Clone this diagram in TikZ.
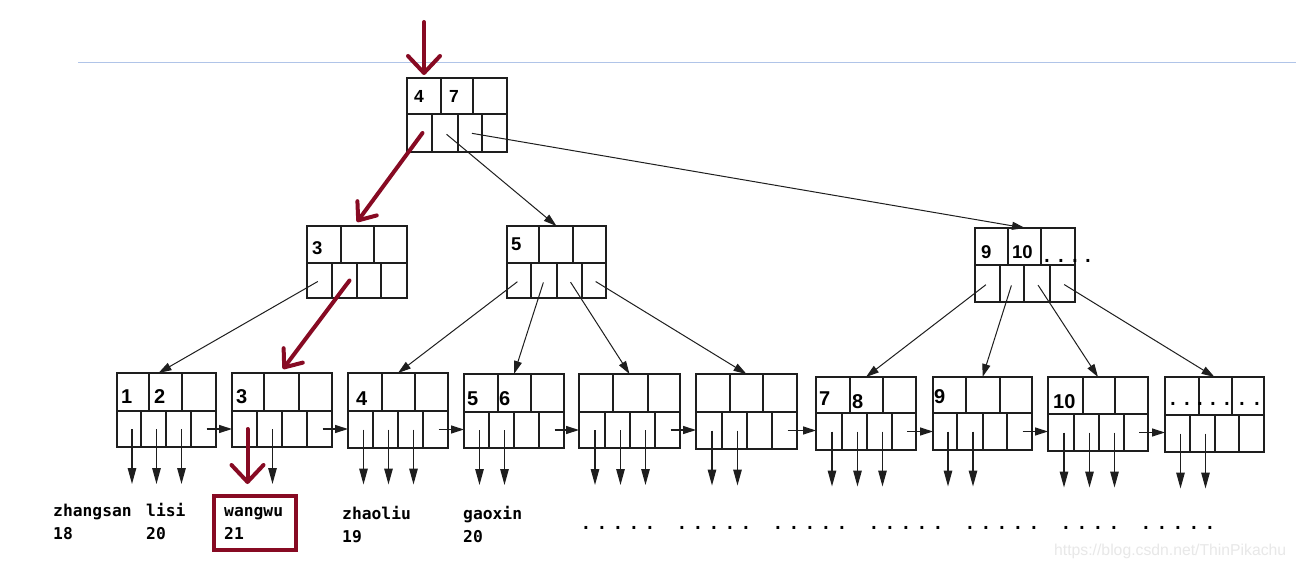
\documentclass[tikz,border=0pt]{standalone}
\usepackage{fontspec}
\usetikzlibrary{fit,arrows.meta}
\newfontfamily\numf{Liberation Sans}
\newfontfamily\labf{DejaVu Sans Mono}
\newfontfamily\wmf{Liberation Sans}
\definecolor{bred}{RGB}{135,10,35}
\definecolor{bblue}{RGB}{176,196,232}
\definecolor{boxc}{RGB}{30,30,30}
\definecolor{wmc}{RGB}{232,232,232}
% B-tree node: name, x0, top divider 1, top divider 2, x end, y top, y mid, y bottom
\newcommand\btnode[8]{%
  \def\btxa{#2}\def\btxe{#5}\def\btym{#7}\def\btyb{#8}%
  \node[cellbox, fit={(#2,#6) (#3,#7)}] (#1-t1) {};
  \node[cellbox, fit={(#3,#6) (#4,#7)}] (#1-t2) {};
  \node[cellbox, fit={(#4,#6) (#5,#7)}] (#1-t3) {};
  \node[inner sep=0pt, outer sep=0pt, fit={(#2,#6) (#5,#8)}] (#1) {};
}
% bottom row: name, three dividers
\newcommand\btbot[4]{%
  \node[cellbox, fit={(\btxa,\btym) (#2,\btyb)}] (#1-b1) {};
  \node[cellbox, fit={(#2,\btym) (#3,\btyb)}] (#1-b2) {};
  \node[cellbox, fit={(#3,\btym) (#4,\btyb)}] (#1-b3) {};
  \node[cellbox, fit={(#4,\btym) (\btxe,\btyb)}] (#1-b4) {};
}
\begin{document}
\begin{tikzpicture}[x=1pt,y=-1pt,
  cellbox/.style={draw=boxc, line width=1.35pt, rectangle, inner sep=0pt, outer sep=0pt},
  numA/.style={font=\numf\bfseries\fontsize{17.5}{17.5}\selectfont, anchor=base west, inner sep=0pt},
  numB/.style={font=\numf\bfseries\fontsize{18.5}{18.5}\selectfont, anchor=base west, inner sep=0pt},
  numC/.style={font=\numf\bfseries\fontsize{20}{20}\selectfont, anchor=base west, inner sep=0pt},
  lab/.style={font=\labf\bfseries\fontsize{16.3}{16.3}\selectfont, anchor=base west, inner sep=0pt},
  dotsty/.style={font=\labf\bfseries\fontsize{17}{17}\selectfont, anchor=center, inner sep=0pt},
  tarrow/.style={draw=boxc, line width=1pt, -{Triangle[length=13pt,width=8pt]}, shorten <=2pt},
  darrow/.style={draw=boxc, line width=1.2pt, -{Triangle[length=16pt,width=8.5pt]}},
  harrow/.style={draw=boxc, line width=1.2pt, -{Triangle[length=13pt,width=8pt]}},
  redv/.style={draw=bred, line width=4pt, line cap=round, -{Straight Barb[length=17pt,width=32pt,round]}},
  reds/.style={draw=bred, line width=4pt, line cap=round, -{Straight Barb[length=15pt,width=24pt,round]}}
]
\useasboundingbox (0,0) rectangle (1296,567);
\fill[white] (0,0) rectangle (1296,567);
% top rule
\coordinate (ruleL) at (78,62.5);
\coordinate (ruleR) at (1296,62.5);
\draw[bblue, line width=1.3pt] (ruleL) -- (ruleR);

% root
\btnode{R}{407}{441}{473}{507}{78}{114}{152}\btbot{R}{432}{458}{482}
% level 2
\btnode{N3}{307}{341}{374}{407}{226}{263}{298}\btbot{N3}{332}{357}{381}
\btnode{N5}{507}{539}{573}{606}{226}{263}{298}\btbot{N5}{531}{557}{582}
\btnode{N9}{975}{1008}{1041}{1075}{228}{265}{302}\btbot{N9}{1000}{1024}{1050}
% leaves
\btnode{L1}{117}{149}{182}{216}{373}{411}{447}\btbot{L1}{141}{166}{191}
\btnode{L2}{232}{264}{299}{332}{373}{411}{447}\btbot{L2}{257}{282}{307}
\btnode{L3}{348}{382}{415}{448}{373}{411}{448}\btbot{L3}{373}{398}{423}
\btnode{L4}{464}{498}{531}{564}{374}{412}{448}\btbot{L4}{489}{514}{539}
\btnode{L5}{579}{613}{648}{680}{374}{412}{448}\btbot{L5}{605}{630}{655}
\btnode{L6}{696}{730}{763}{797}{374}{412}{449}\btbot{L6}{722}{747}{772}
\btnode{L7}{816}{850}{883}{916}{377}{413}{450}\btbot{L7}{842}{867}{892}
\btnode{L8}{933}{966}{1000}{1032}{377}{413}{450}\btbot{L8}{957}{983}{1007}
\btnode{L9}{1048}{1083}{1115}{1148}{377}{414}{451}\btbot{L9}{1074}{1099}{1124}
\btnode{L10}{1165}{1199}{1232}{1264}{377}{415}{452}\btbot{L10}{1190}{1215}{1239}

% keys
\node[numA] (kR4) at (414,103) {4};
\node[numA] (kR7) at (449,103) {7};
\node[numB] (kN3) at (312,254) {3};
\node[numB] (kN5) at (511,250) {5};
\node[numB] (kN9) at (981,258) {9};
\node[numB] (kN10) at (1012,258) {10};
\node[numC] (kL1) at (121,403) {1};
\node[numC] (kL2) at (154,403) {2};
\node[numC] (kL3) at (236,403) {3};
\node[numC] (kL4) at (356,405) {4};
\node[numC] (kL5) at (467,405) {5};
\node[numC] (kL6) at (499,405) {6};
\node[numC] (kL7) at (819,405) {7};
\node[numC] (kL8) at (852,408) {8};
\node[numC] (kL9) at (934,403) {9};
\node[numC] (kL10) at (1053,408) {10};

% dots in nodes
\foreach \x [count=\i] in {1047,1061,1075,1088}
  \node[dotsty] (nd\i) at (\x,261) {.};
\foreach \x [count=\i] in {1173,1187,1200,1213,1227,1242,1257}
  \node[dotsty] (ld\i) at (\x,404) {.};

% tree arrows
\draw[tarrow] (R-b2.center) -- (N5.north);
\draw[tarrow] (R-b3.center) -- (N9.north);
\draw[tarrow] (N3-b1.center) -- ([xshift=-8pt]L1.north);
\draw[tarrow] (N5-b1.center) -- (L3.north);
\draw[tarrow] (N5-b2.center) -- (L4.north);
\draw[tarrow] (N5-b3.center) -- (L5.north);
\draw[tarrow] (N5-b4.center) -- (L6.north);
\draw[tarrow] (N9-b1.center) -- (L7.north);
\draw[tarrow] (N9-b2.center) -- (L8.north);
\draw[tarrow] (N9-b3.center) -- (L9.north);
\draw[tarrow] (N9-b4.center) -- (L10.north);

% leaf chain
\foreach \a/\b in {L1/L2,L2/L3,L3/L4,L4/L5,L5/L6,L6/L7,L7/L8,L8/L9,L9/L10}
  \draw[harrow] ([xshift=3pt]\a-b4.center) -- (\a-b4.center -| \b.west);

% data pointers
\foreach \c in {L1-b1,L1-b2,L1-b3,L2-b2,L3-b1,L3-b2,L3-b3,L4-b1,L4-b2,L5-b1,L5-b2,L5-b3,L6-b1,L6-b2,L7-b1,L7-b2,L7-b3,L8-b1,L8-b2,L9-b1,L9-b2,L9-b3,L10-b1,L10-b2}
  \draw[darrow] ([xshift=3pt]\c.center) -- ++(0,55);

% red search path
\coordinate (start) at (424,22);
\draw[redv] (start) -- ([yshift=3pt]R-t1.north);
\draw[reds] ([xshift=3pt]R-b1.center) -- ([yshift=4pt]N3.north);
\draw[reds] ([xshift=5pt]N3-b2.center) -- ([yshift=4pt,xshift=1pt]L2.north);
\draw[redv] ([xshift=3pt]L2-b1.center) -- ++(0,55);

% records
\node[lab] (r1n) at (53,516) {zhangsan};
\node[lab] (r1a) at (53,539) {18};
\node[lab] (r2n) at (146,516) {lisi};
\node[lab] (r2a) at (146,539) {20};
\node[lab] (r3n) at (224,516) {wangwu};
\node[lab] (r3a) at (224,539) {21};
\node[lab] (r4n) at (342,519) {zhaoliu};
\node[lab] (r4a) at (342,542) {19};
\node[lab] (r5n) at (463,519) {gaoxin};
\node[lab] (r5a) at (463,542) {20};
\node[draw=bred, line width=4pt, inner sep=0pt, fit={(214,496) (296,550)}] (hit) {};

\foreach \x [count=\i] in {586,602,618,634,650, 682,698,714,730,746, 778,794,810,826,842, 874,890,906,922,938, 970,986,1002,1018,1034, 1066,1082,1098,1114, 1146,1162,1178,1194,1210}
  \node[dotsty] (bd\i) at (\x,528) {.};

\node[font=\wmf\fontsize{15.75}{15.75}\selectfont, text=wmc, anchor=base west, inner sep=0pt] (wm) at (1054,555) {https://blog.csdn.net/ThinPikachu};
\end{tikzpicture}
\end{document}
